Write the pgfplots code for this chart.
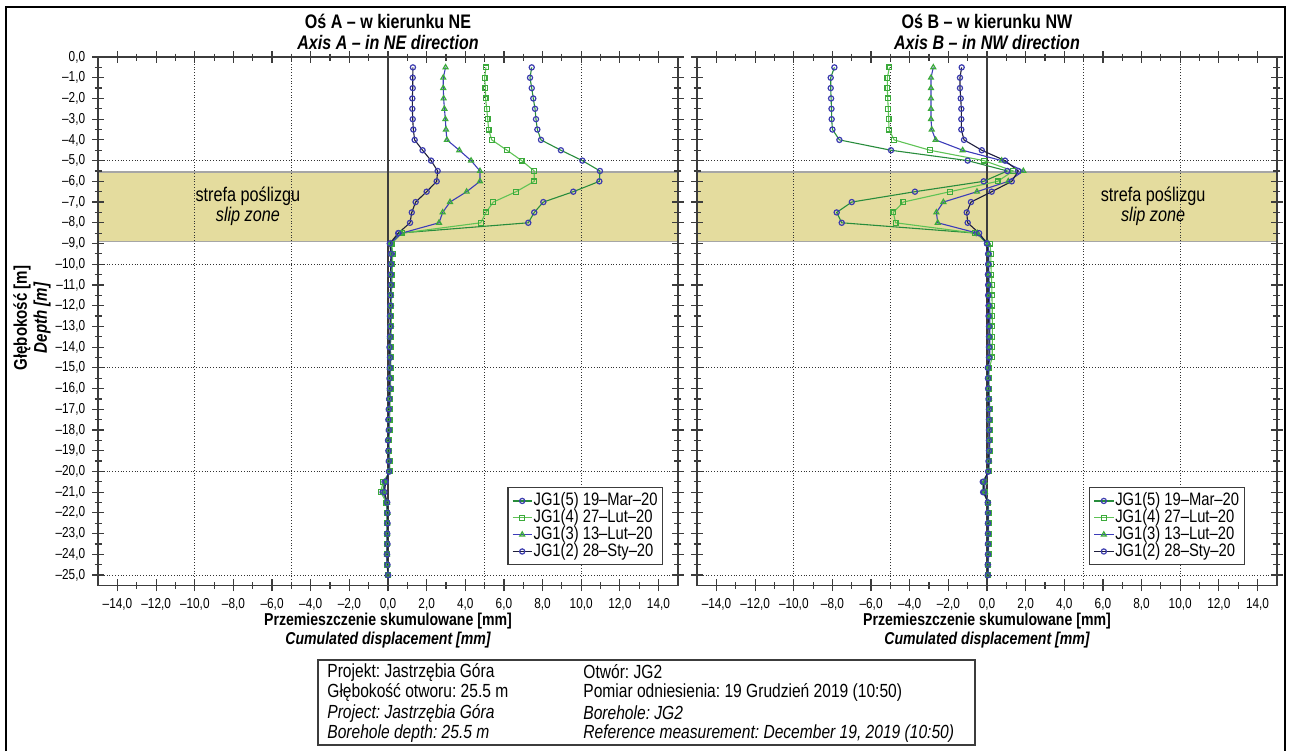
\documentclass[border=0pt]{standalone}
\usepackage{fontspec}
\setmainfont{Liberation Sans}[FakeStretch=0.82]
\usepackage{pgfplots}
\pgfplotsset{compat=1.18}
\usepackage{pgfplotstable}
\frenchspacing

\definecolor{mkblue}{RGB}{60,60,175}
\definecolor{dkgreen}{RGB}{40,140,60}
\definecolor{ltgreen}{RGB}{95,195,85}
\definecolor{sqgreen}{RGB}{60,170,60}
\definecolor{lnblue}{RGB}{60,60,185}
\definecolor{navy}{RGB}{30,30,60}
\definecolor{slip}{RGB}{228,220,158}
\definecolor{axgray}{RGB}{60,60,60}

\pgfplotstableread{
d A5 A4 A3 A2
-0.5 7.44 5.07 2.98 1.29
-1.0 7.35 5.00 2.86 1.28
-1.5 7.44 5.04 2.86 1.28
-2.0 7.52 5.05 2.88 1.26
-2.5 7.61 5.11 2.92 1.26
-3.0 7.66 5.16 2.97 1.28
-3.5 7.73 5.21 3.00 1.31
-4.0 7.92 5.37 3.05 1.38
-4.5 8.95 6.16 3.69 1.79
-5.0 10.06 6.92 4.30 2.23
-5.5 10.97 7.57 4.76 2.57
-6.0 10.94 7.57 4.76 2.52
-6.5 9.59 6.63 4.07 2.00
-7.0 8.04 5.45 3.21 1.43
-7.5 7.57 5.07 2.83 1.23
-8.0 7.26 4.80 2.64 1.14
-8.5 0.55 0.71 0.71 0.53
-9.0 0.15 0.19 0.12 0.09
-9.5 0.20 0.25 0.18 0.15
-10.0 0.17 0.22 0.15 0.14
-10.5 0.16 0.22 0.14 0.13
-11.0 0.17 0.20 0.15 0.14
-11.5 0.15 0.18 0.14 0.12
-12.0 0.15 0.18 0.13 0.12
-12.5 0.13 0.16 0.12 0.10
-13.0 0.15 0.18 0.13 0.12
-13.5 0.12 0.15 0.11 0.10
-14.0 0.10 0.13 0.10 0.08
-14.5 0.13 0.15 0.12 0.10
-15.0 0.12 0.14 0.10 0.09
-15.5 0.10 0.13 0.09 0.08
-16.0 0.12 0.14 0.10 0.09
-16.5 0.08 0.12 0.08 0.06
-17.0 0.06 0.10 0.05 0.04
-17.5 0.04 0.08 0.04 0.02
-18.0 0.06 0.09 0.05 0.04
-18.5 0.02 0.05 0.02 0.00
-19.0 0.04 0.07 0.04 0.02
-19.5 0.06 0.09 0.05 0.04
-20.0 0.08 0.10 0.06 0.05
-20.5 -0.18 -0.25 -0.15 -0.12
-21.0 -0.28 -0.38 -0.22 -0.18
-21.5 -0.06 -0.08 -0.05 -0.04
-22.0 -0.04 -0.05 -0.03 -0.03
-22.5 -0.04 -0.05 -0.03 -0.03
-23.0 -0.05 -0.06 -0.04 -0.04
-23.5 -0.04 -0.05 -0.04 -0.03
-24.0 -0.06 -0.07 -0.05 -0.05
-24.5 -0.04 -0.05 -0.03 -0.03
-25.0 0.00 0.00 0.00 0.00
}\Ltab

\pgfplotstableread{
d B5 B4 B3 B2
-0.5 -7.90 -5.05 -2.78 -1.31
-1.0 -8.09 -5.16 -2.90 -1.40
-1.5 -8.09 -5.16 -2.90 -1.40
-2.0 -8.07 -5.14 -2.90 -1.36
-2.5 -8.05 -5.11 -2.90 -1.33
-3.0 -8.04 -5.09 -2.90 -1.33
-3.5 -8.00 -5.07 -2.86 -1.33
-4.0 -7.64 -4.81 -2.66 -1.19
-4.5 -4.97 -2.95 -1.26 -0.27
-5.0 -1.00 -0.16 0.76 0.93
-5.5 1.05 1.36 1.88 1.62
-6.0 -0.17 0.55 1.10 1.28
-6.5 -3.73 -1.92 -0.52 0.24
-7.0 -7.00 -4.33 -2.26 -0.83
-7.5 -7.78 -4.85 -2.62 -1.05
-8.0 -7.52 -4.73 -2.55 -1.00
-8.5 -0.55 -0.62 -0.50 -0.41
-9.0 0.00 0.15 0.05 0.00
-9.5 0.08 0.20 0.10 0.06
-10.0 0.08 0.20 0.10 0.06
-10.5 0.06 0.22 0.10 0.05
-11.0 0.08 0.25 0.12 0.06
-11.5 0.08 0.25 0.12 0.06
-12.0 0.10 0.27 0.14 0.08
-12.5 0.10 0.27 0.14 0.08
-13.0 0.12 0.28 0.15 0.10
-13.5 0.12 0.28 0.15 0.10
-14.0 0.12 0.27 0.15 0.10
-14.5 0.12 0.27 0.14 0.10
-15.0 0.06 0.12 0.08 0.04
-15.5 0.06 0.10 0.08 0.05
-16.0 0.08 0.12 0.09 0.06
-16.5 0.10 0.12 0.10 0.08
-17.0 0.12 0.14 0.12 0.10
-17.5 0.12 0.14 0.12 0.10
-18.0 0.12 0.14 0.12 0.10
-18.5 0.12 0.14 0.12 0.10
-19.0 0.12 0.14 0.12 0.10
-19.5 0.10 0.12 0.10 0.08
-20.0 0.08 0.10 0.08 0.06
-20.5 -0.22 -0.15 -0.12 -0.18
-21.0 -0.20 -0.12 -0.10 -0.16
-21.5 0.05 0.07 0.05 0.04
-22.0 0.06 0.08 0.06 0.05
-22.5 0.06 0.08 0.06 0.05
-23.0 0.06 0.08 0.06 0.05
-23.5 0.06 0.08 0.06 0.05
-24.0 0.06 0.08 0.06 0.05
-24.5 0.05 0.07 0.05 0.04
-25.0 0.05 0.06 0.05 0.04
}\Rtab

\pgfplotsset{
  s5/.style={dkgreen, line width=0.55pt, mark=o, mark size=1.3pt, mark options={draw=mkblue, solid, line width=0.6pt}},
  s4/.style={ltgreen, line width=0.55pt, mark=square, mark size=1.2pt, mark options={draw=sqgreen, solid, line width=0.6pt}},
  s3/.style={lnblue, line width=0.55pt, mark=triangle, mark size=1.4pt, mark options={draw=sqgreen, solid, line width=0.6pt}},
  s2/.style={navy, line width=0.55pt, mark=o, mark size=1.3pt, mark options={draw=mkblue, solid, line width=0.6pt}},
  incl/.style={
    set layers,
    scale only axis, width=289.8pt, height=264.2pt,
    xmin=-15, xmax=15, ymin=-25.5, ymax=0,
    xtick={-14,-12,...,14}, minor xtick={-13,-11,...,13},
    ytick={0,-1,...,-25}, minor ytick={-0.5,-1.5,...,-24.5},
    xticklabels={{–14,0},{–12,0},{–10,0},{–8,0},{–6,0},{–4,0},{–2,0},{0,0},{2,0},{4,0},{6,0},{8,0},{10,0},{12,0},{14,0}},
    tick align=center, major tick length=6pt, minor tick length=3.5pt,
    every tick/.style={axgray, line width=0.6pt},
    axis line style={axgray, line width=0.9pt},
    tick label style={font=\fontsize{7.2}{8}\selectfont},
    extra x ticks={-10,-5,5,10}, extra x tick labels={},
    extra x tick style={grid=major, major tick length=0pt},
    extra y ticks={-5,-10,-15,-20,-25}, extra y tick labels={},
    extra y tick style={grid=major, major tick length=0pt},
    major grid style={densely dotted, black!80, line width=0.55pt},
    legend cell align=left,
    legend style={draw=axgray, line width=0.6pt, font=\fontsize{9}{10}\selectfont, inner sep=2pt, row sep=-0.8pt, anchor=north east,
      nodes={inner sep=0.6pt}},
    legend image code/.code={\draw[mark repeat=2,mark phase=2] plot coordinates {(0cm,0cm) (0.17cm,0cm) (0.34cm,0cm)};},
  },
}

\begin{document}
\begin{tikzpicture}
\draw[black, line width=0.8pt] (3pt,-375.5pt) -- (3pt,-3.5pt) -- (642.5pt,-3.5pt) -- (642.5pt,-375.5pt);

% ---------- left axis ----------
\begin{axis}[incl, at={(49.1pt,-292.7pt)}, anchor=south west,
  yticklabels={{0,0},{–1,0},{–2,0},{–3,0},{–4,0},{–5,0},{–6,0},{–7,0},{–8,0},{–9,0},{–10,0},{–11,0},{–12,0},{–13,0},{–14,0},{–15,0},{–16,0},{–17,0},{–18,0},{–19,0},{–20,0},{–21,0},{–22,0},{–23,0},{–24,0},{–25,0}},
  legend style={at={(0.975,0.186)}}]
\begin{pgfonlayer}{axis background}
\fill[slip] (axis cs:-15,-5.55) rectangle (axis cs:15,-8.9);
\draw[black!35, line width=0.7pt] (axis cs:-15,-5.55) -- (axis cs:15,-5.55) (axis cs:-15,-8.9) -- (axis cs:15,-8.9);
\end{pgfonlayer}
\draw[axgray, line width=0.7pt] (axis cs:0,0) -- (axis cs:0,-25.5);
\node[font=\fontsize{9.9}{11}\selectfont] at (axis cs:-7.25,-6.7) {strefa poślizgu};
\node[font=\fontsize{9.9}{11}\selectfont\itshape] at (axis cs:-7.25,-7.67) {slip zone};
\addplot[s5] table[x=A5, y=d]{\Ltab}; \addlegendentry{JG1(5) 19–Mar–20}
\addplot[s4] table[x=A4, y=d]{\Ltab}; \addlegendentry{JG1(4) 27–Lut–20}
\addplot[s3] table[x=A3, y=d]{\Ltab}; \addlegendentry{JG1(3) 13–Lut–20}
\addplot[s2] table[x=A2, y=d]{\Ltab}; \addlegendentry{JG1(2) 28–Sty–20}
\end{axis}

% ---------- right axis ----------
\begin{axis}[incl, at={(348.6pt,-292.7pt)}, anchor=south west,
  yticklabels={}, legend style={at={(0.945,0.186)}}]
\begin{pgfonlayer}{axis background}
\fill[slip] (axis cs:-15,-5.55) rectangle (axis cs:15,-8.9);
\draw[black!35, line width=0.7pt] (axis cs:-15,-5.55) -- (axis cs:15,-5.55) (axis cs:-15,-8.9) -- (axis cs:15,-8.9);
\end{pgfonlayer}
\draw[axgray, line width=0.7pt] (axis cs:0,0) -- (axis cs:0,-25.5);
\node[font=\fontsize{9.9}{11}\selectfont] at (axis cs:8.6,-6.7) {strefa poślizgu};
\node[font=\fontsize{9.9}{11}\selectfont\itshape] at (axis cs:8.6,-7.67) {slip zone};
\addplot[s5] table[x=B5, y=d]{\Rtab}; \addlegendentry{JG1(5) 19–Mar–20}
\addplot[s4] table[x=B4, y=d]{\Rtab}; \addlegendentry{JG1(4) 27–Lut–20}
\addplot[s3] table[x=B3, y=d]{\Rtab}; \addlegendentry{JG1(3) 13–Lut–20}
\addplot[s2] table[x=B2, y=d]{\Rtab}; \addlegendentry{JG1(2) 28–Sty–20}
\end{axis}

% ---------- titles and labels ----------
\node[font=\bfseries\fontsize{9.8}{11}\selectfont] at (194pt,-10.5pt) {Oś A – w kierunku NE};
\node[font=\bfseries\itshape\fontsize{9.8}{11}\selectfont] at (194pt,-21pt) {Axis A – in NE direction};
\node[font=\bfseries\fontsize{9.8}{11}\selectfont] at (493.5pt,-10.5pt) {Oś B – w kierunku NW};
\node[font=\bfseries\itshape\fontsize{9.8}{11}\selectfont] at (493.5pt,-21pt) {Axis B – in NW direction};

\node[font=\bfseries\fontsize{8.6}{10}\selectfont] at (194pt,-310.5pt) {Przemieszczenie skumulowane [mm]};
\node[font=\bfseries\itshape\fontsize{8.6}{10}\selectfont] at (194pt,-320pt) {Cumulated displacement [mm]};
\node[font=\bfseries\fontsize{8.6}{10}\selectfont] at (493.5pt,-310.5pt) {Przemieszczenie skumulowane [mm]};
\node[font=\bfseries\itshape\fontsize{8.6}{10}\selectfont] at (493.5pt,-320pt) {Cumulated displacement [mm]};

\node[rotate=90, font=\bfseries\fontsize{9.2}{10}\selectfont] at (11pt,-159pt) {Głębokość [m]};
\node[rotate=90, font=\bfseries\itshape\fontsize{9.2}{10}\selectfont] at (21pt,-159pt) {Depth [m]};

% ---------- info box ----------
\draw[axgray, line width=0.7pt] (159pt,-330pt) rectangle (487.5pt,-372.5pt);
\begin{scope}[every node/.style={anchor=west, inner sep=0pt, font=\fontsize{9.5}{10}\selectfont}]
\node at (163.5pt,-336pt) {Projekt: Jastrzębia Góra};
\node at (163.5pt,-346pt) {Głębokość otworu: 25.5 m};
\node[font=\fontsize{9.5}{10}\selectfont\itshape] at (163.5pt,-356.5pt) {Project: Jastrzębia Góra};
\node[font=\fontsize{9.5}{10}\selectfont\itshape] at (163.5pt,-367pt) {Borehole depth: 25.5 m};
\node at (291.5pt,-336pt) {Otwór: JG2};
\node at (291.5pt,-346pt) {Pomiar odniesienia: 19 Grudzień 2019 (10:50)};
\node[font=\fontsize{9.5}{10}\selectfont\itshape] at (291.5pt,-356.5pt) {Borehole: JG2};
\node[font=\fontsize{9.5}{10}\selectfont\itshape] at (291.5pt,-367pt) {Reference measurement: December 19, 2019 (10:50)};
\end{scope}
\pgfresetboundingbox
\path[use as bounding box] (0,0) rectangle (644.5pt,-375.5pt);
\end{tikzpicture}
\end{document}
